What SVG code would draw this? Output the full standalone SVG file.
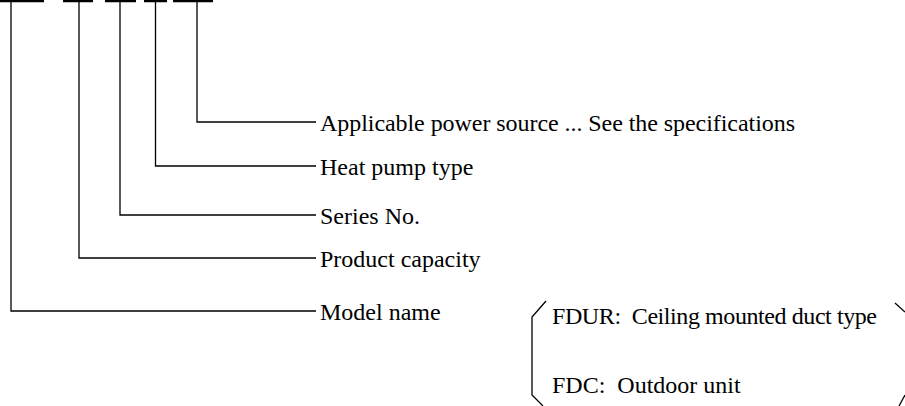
<svg xmlns="http://www.w3.org/2000/svg" width="905" height="406" viewBox="0 0 905 406">
<style>
.bar{stroke:#000;stroke-width:2.5;fill:none}
.ln{stroke:#000;stroke-width:1.3;fill:none}
text{font-family:"Liberation Serif","Times New Roman",serif;font-size:24px;fill:#000;white-space:pre}
</style>
<rect width="905" height="406" fill="#fff"/>
<g id="bars">
<line class="bar" x1="0" y1="1" x2="44" y2="1"/>
<line class="bar" x1="63" y1="1" x2="93" y2="1"/>
<line class="bar" x1="105" y1="1" x2="136" y2="1"/>
<line class="bar" x1="144" y1="1" x2="167" y2="1"/>
<line class="bar" x1="173" y1="1" x2="213" y2="1"/>
</g>
<g id="connectors">
<polyline class="ln" points="197,1 197,122 316,122"/>
<polyline class="ln" points="155.5,1 155.5,166 316,166"/>
<polyline class="ln" points="120,1 120,215 316,215"/>
<polyline class="ln" points="79,1 79,258 316,258"/>
<polyline class="ln" points="11,1 11,311 316,311"/>
</g>
<g id="n-power"><text x="320" y="131" textLength="475" lengthAdjust="spacing">Applicable power source ... See the specifications</text></g>
<g id="n-heat"><text x="320" y="175">Heat pump type</text></g>
<g id="n-series"><text x="320" y="224">Series No.</text></g>
<g id="n-capacity"><text x="320" y="267">Product capacity</text></g>
<g id="n-model"><text x="320" y="320">Model name</text></g>
<g id="legend">
<polyline class="ln" points="546,301 532,317 532,395 543,406"/>
<polyline class="ln" points="895,303 905,312"/>
<polyline class="ln" points="905,395 899,406"/>
<text x="552" y="324" xml:space="preserve" textLength="325" lengthAdjust="spacing">FDUR:  Ceiling mounted duct type</text>
<text x="552" y="393" xml:space="preserve">FDC:  Outdoor unit</text>
</g>
</svg>
